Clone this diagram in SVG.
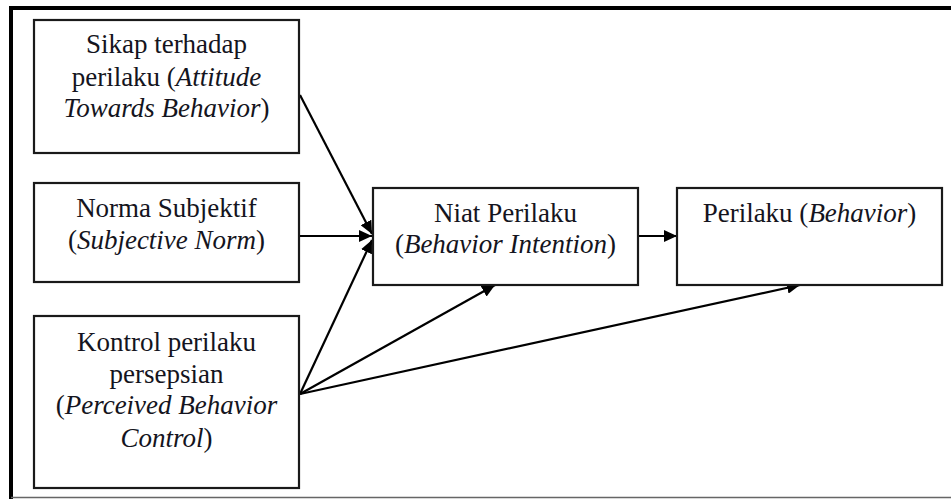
<svg xmlns="http://www.w3.org/2000/svg" width="951" height="499" viewBox="0 0 951 499">
<defs>
<marker id="ah" markerUnits="userSpaceOnUse" markerWidth="14" markerHeight="12" refX="13" refY="6" orient="auto">
<path d="M0,0 L13,6 L0,12 Z" fill="#000"/>
</marker>
<style>
.box{fill:#fff;stroke:#1a1a1a;stroke-width:2.2}
.t{font-family:'Liberation Serif','Tinos','Times New Roman','DejaVu Serif',serif;font-size:27px;fill:#141420;text-anchor:middle}
.i{font-style:italic}
.c{stroke:#000;stroke-width:2.2;fill:none;marker-end:url(#ah)}
</style>
</defs>
<rect width="951" height="499" fill="#fff"/>
<g id="frame">
<line x1="9" y1="8" x2="951" y2="8" stroke="#000" stroke-width="4"/>
<line x1="11" y1="6" x2="11" y2="499" stroke="#000" stroke-width="4"/>
<line x1="11" y1="497.5" x2="951" y2="497.5" stroke="#666" stroke-width="1.5"/>
</g>
<g id="connectors">
<line class="c" x1="300" y1="95" x2="372" y2="234"/>
<line class="c" x1="300" y1="236" x2="372" y2="236"/>
<line class="c" x1="300" y1="394" x2="372" y2="240"/>
<line class="c" x1="300" y1="394" x2="495" y2="285"/>
<line class="c" x1="300" y1="394" x2="800" y2="285"/>
<line class="c" x1="638" y1="236" x2="677" y2="236"/>
</g>
<g id="sikap">
<rect class="box" x="34" y="20" width="265" height="133"/>
<text class="t" font-family="Liberation Serif, serif" x="166.5" y="53">Sikap terhadap</text>
<text class="t" font-family="Liberation Serif, serif" x="166.5" y="86">perilaku (<tspan class="i">Attitude</tspan></text>
<text class="t" font-family="Liberation Serif, serif" x="166.5" y="117"><tspan class="i">Towards Behavior</tspan>)</text>
</g>
<g id="norma">
<rect class="box" x="34" y="183" width="265" height="99"/>
<text class="t" x="166.5" y="217">Norma Subjektif</text>
<text class="t" x="166.5" y="249">(<tspan class="i">Subjective Norm</tspan>)</text>
</g>
<g id="kontrol">
<rect class="box" x="34" y="316" width="265" height="172"/>
<text class="t" x="166.5" y="351">Kontrol perilaku</text>
<text class="t" x="166.5" y="383">persepsian</text>
<text class="t" x="166.5" y="414">(<tspan class="i">Perceived Behavior</tspan></text>
<text class="t" x="166.5" y="447"><tspan class="i">Control</tspan>)</text>
</g>
<g id="niat">
<rect class="box" x="373" y="188" width="265" height="97"/>
<text class="t" x="505.5" y="222">Niat Perilaku</text>
<text class="t" x="505.5" y="253">(<tspan class="i">Behavior Intention</tspan>)</text>
</g>
<g id="perilaku">
<rect class="box" x="677" y="188" width="265" height="97"/>
<text class="t" x="809.5" y="222">Perilaku (<tspan class="i">Behavior</tspan>)</text>
</g>
</svg>
